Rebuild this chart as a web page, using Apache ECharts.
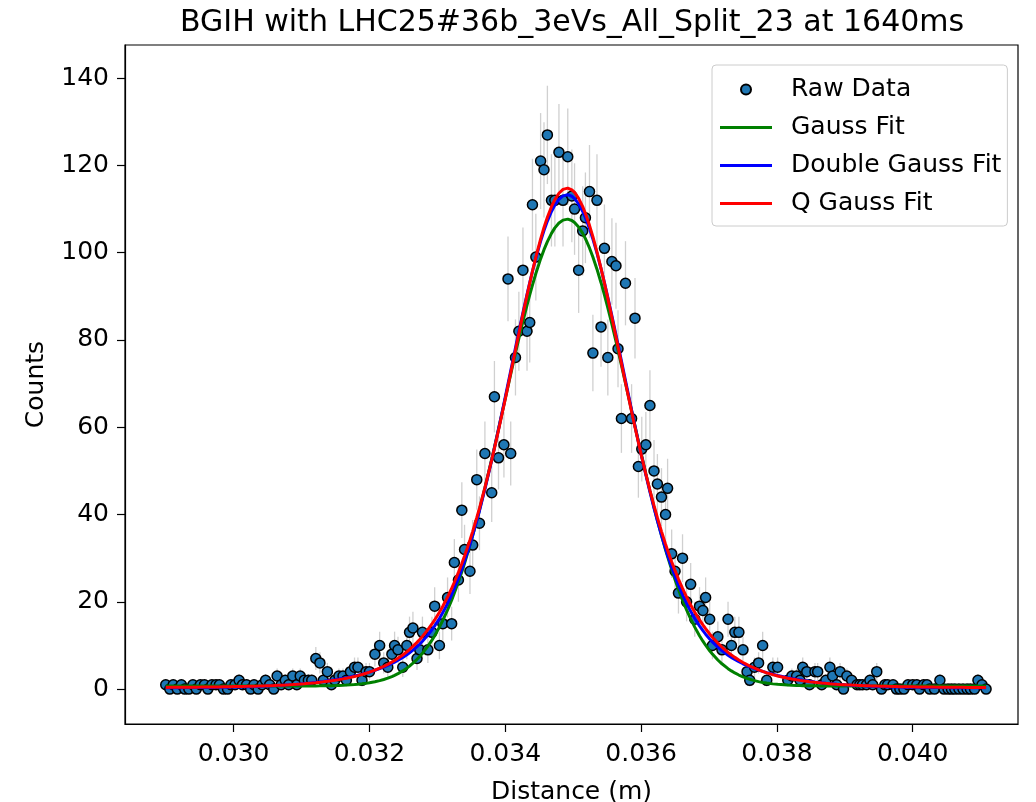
<!DOCTYPE html>
<html><head><meta charset="utf-8">
<script src="https://cdn.jsdelivr.net/npm/echarts@6/dist/echarts.min.js"></script>
<style>html,body{margin:0;padding:0;background:#fff}#c{width:1036px;height:802px}</style>
</head><body><div id="c"></div>
<script>
// Raw data (distance in m, counts)
const distance = [
0.02900,0.02906,0.02911,0.02917,0.02923,0.02928,0.02934,0.02940,0.02945,0.02951,
0.02957,0.02962,0.02968,0.02974,0.02979,0.02985,0.02991,0.02996,0.03002,0.03008,
0.03013,0.03019,0.03025,0.03030,0.03036,0.03042,0.03047,0.03053,0.03059,0.03064,
0.03070,0.03076,0.03081,0.03087,0.03093,0.03098,0.03104,0.03110,0.03115,0.03121,
0.03127,0.03132,0.03138,0.03144,0.03149,0.03155,0.03161,0.03166,0.03172,0.03178,
0.03183,0.03189,0.03195,0.03200,
0.03208,0.03215,0.03221,0.03227,0.03233,0.03237,0.03242,0.03249,0.03255,0.03259,
0.03264,0.03270,0.03274,0.03278,0.03286,0.03292,0.03296,0.03303,0.03308,0.03315,
0.03321,0.03325,0.03331,0.03336,0.03340,0.03348,0.03352,0.03358,0.03362,0.03370,
0.03380,0.03384,0.03390,0.03398,0.03404,0.03408,0.03415,0.03420,0.03426,0.03432,
0.03436,0.03440,0.03445,0.03452,0.03457,0.03462,0.03468,0.03473,0.03479,0.03485,
0.03492,0.03498,0.03502,0.03508,0.03514,0.03518,0.03524,0.03529,0.03535,0.03541,
0.03546,0.03551,0.03557,0.03563,0.03566,0.03571,0.03577,0.03586,0.03591,0.03596,
0.03601,0.03607,0.03613,0.03619,0.03624,0.03630,0.03636,0.03639,0.03645,0.03650,
0.03655,0.03661,0.03667,0.03673,0.03679,0.03686,0.03691,0.03695,0.03701,0.03705,
0.03713,0.03719,0.03728,0.03733,0.03738,0.03744,0.03750,0.03756,0.03760,0.03767,
0.03773,0.03779,0.03785,0.03794,0.03801,
0.03816,0.03822,0.03829,0.03834,0.03838,0.03844,0.03848,0.03856,0.03860,0.03866,
0.03872,0.03878,0.03882,0.03888,0.03893,0.03898,0.03903,0.03910,0.03918,0.03922,
0.03926,0.03932,0.03937,0.03941,0.03947,0.03954,0.03959,0.03963,0.03971,0.03976,
0.03981,0.03987,0.03993,0.04000,0.04006,0.04010,0.04016,0.04021,0.04025,0.04032,
0.04040,0.04046,0.04052,0.04057,0.04062,0.04068,0.04074,0.04080,0.04085,0.04091,
0.04096,0.04102,0.04108
];
const counts = [
1,0,1,0,1,0,0,1,0,1,
1,0,1,1,1,0,0,1,1,2,
1,1,0,1,0,1,2,1,0,3,
1,2,1,3,1,3,2,2,2,7,
6,2,4,1,2,3,3,2,4,5,
5,2,4,4,
8,10,6,5,8,10,9,5,10,13,
14,7,9,13,9,13,19,10,15,21,
15,29,25,41,32,27,33,48,38,54,
45,67,53,56,94,54,76,82,96,82,
84,111,99,121,119,127,112,112,123,112,
122,113,110,96,105,108,114,77,112,83,
101,76,98,97,78,62,93,62,85,51,
55,56,65,50,47,44,40,46,31,27,
22,30,20,24,16,19,18,21,16,10,
12,9,16,10,13,13,9,4,2,5,
6,10,2,5,5,
2,3,3,2,5,4,1,4,4,1,
2,5,3,1,4,0,3,2,1,1,
1,1,2,1,4,0,1,1,1,0,
0,0,1,1,1,0,1,1,0,0,
2,0,0,0,0,0,0,0,0,0,
2,1,0
];
const xTicks = [0.030, 0.032, 0.034, 0.036, 0.038, 0.040];
const yTicks = [0, 20, 40, 60, 80, 100, 120, 140];
// Fit parameters
const gaussParams = [107, 0.03491, 0.000924, 0.7];          // A, mu, sigma, offset
const doubleGaussParams = [95, 0.03491, 0.00082, 18, 0.0016, 0.3]; // A1, mu, s1, A2, s2, offset
const qGaussParams = [114.5, 0.03491, 1.3, 7.19e5, 0.3];     // A, mu, q, beta, offset

function gauss(x){const [A,m,s,c]=gaussParams;return A*Math.exp(-0.5*((x-m)/s)**2)+c;}
function dgauss(x){const [A1,m,s1,A2,s2,c]=doubleGaussParams;return A1*Math.exp(-0.5*((x-m)/s1)**2)+A2*Math.exp(-0.5*((x-m)/s2)**2)+c;}
function qgauss(x){const [A,m,q,b,c]=qGaussParams;return A*Math.pow(1+(q-1)*b*(x-m)**2,-1/(q-1))+c;}

const chart = echarts.init(document.getElementById('c'), null, {renderer:'canvas'});
const FONT = 'DejaVu Sans';
const raw = distance.map((x,i)=>[x,counts[i]]);
const errData = distance.map((x,i)=>[x,counts[i],Math.sqrt(Math.max(counts[i],1))]);
const LINE_ICON = 'path://M0,0L0,0ZM0,3.5L52,3.5L52,6.5L0,6.5ZM52,10L52,10Z';

chart.setOption({
  animation:false,
  backgroundColor:'#fff',
  title:{text:'BGIH with LHC25#36b_3eVs_All_Split_23 at 1640ms', left:180, top:8, padding:0,
    textStyle:{fontFamily:FONT,fontSize:30,fontWeight:'normal',color:'#000'}},
  grid:{left:125, top:45, width:893, height:679, outerBoundsMode:'none', containLabel:false,
    show:true, borderColor:'#000', borderWidth:1.2, backgroundColor:'transparent'},
  legend:{
    left:712, top:65, orient:'vertical',
    data:[{name:'Raw Data',icon:'circle'},{name:'Gauss Fit',icon:LINE_ICON},
          {name:'Double Gauss Fit',icon:LINE_ICON},{name:'Q Gauss Fit',icon:LINE_ICON}],
    itemWidth:52, itemHeight:10, itemGap:13,
    padding:[12,6,10,8],
    borderColor:'#cccccc', borderWidth:1, borderRadius:4, backgroundColor:'rgba(255,255,255,0.8)',
    textStyle:{fontFamily:FONT,fontSize:25,color:'#000',lineHeight:25,padding:[0,0,0,14]}
  },
  xAxis:{type:'value', min:0.0284, max:0.04155,
    name:'Distance (m)', nameLocation:'middle', nameGap:56,
    nameTextStyle:{fontFamily:FONT,fontSize:25,color:'#000'},
    axisLine:{show:true,onZero:false,lineStyle:{color:'#000',width:1.2}},
    axisTick:{show:true,length:8,customValues:xTicks,lineStyle:{color:'#000',width:1.2}},
    axisLabel:{customValues:xTicks,formatter:v=>v.toFixed(3),fontFamily:FONT,fontSize:25,color:'#000',margin:18},
    splitLine:{show:false}},
  yAxis:{type:'value', min:-8, max:147.6,
    name:'Counts', nameLocation:'middle', nameGap:76, nameRotate:90,
    nameTextStyle:{fontFamily:FONT,fontSize:25,color:'#000'},
    axisLine:{show:true,onZero:false,lineStyle:{color:'#000',width:1.2}},
    axisTick:{show:true,length:8,customValues:yTicks,lineStyle:{color:'#000',width:1.2}},
    axisLabel:{customValues:yTicks,formatter:v=>String(v),fontFamily:FONT,fontSize:25,color:'#000',margin:16},
    splitLine:{show:false}},
  series:[
    {type:'custom', name:'Errors', silent:true, z:1, data:errData,
      renderItem:(params,api)=>{
        const x=api.value(0), y=api.value(1), e=api.value(2);
        const p1=api.coord([x,y-e]), p2=api.coord([x,y+e]);
        return {type:'line', shape:{x1:p1[0],y1:p1[1],x2:p2[0],y2:p2[1]}, style:{stroke:'#d0d0d0',lineWidth:1.3}};
      }},
    {type:'scatter', name:'Raw Data', z:2, data:raw, symbol:'circle', symbolSize:10,
      itemStyle:{color:'#1f77b4',borderColor:'#000',borderWidth:1.5,opacity:1}},
    {type:'line', name:'Gauss Fit', z:3, showSymbol:false, symbol:'none',
      data:distance.map(x=>[x,gauss(x)]), lineStyle:{color:'#008000',width:3}, itemStyle:{color:'#008000'}},
    {type:'line', name:'Double Gauss Fit', z:4, showSymbol:false, symbol:'none',
      data:distance.map(x=>[x,dgauss(x)]), lineStyle:{color:'#0000ff',width:3}, itemStyle:{color:'#0000ff'}},
    {type:'line', name:'Q Gauss Fit', z:5, showSymbol:false, symbol:'none',
      data:distance.map(x=>[x,qgauss(x)]), lineStyle:{color:'#ff0000',width:3}, itemStyle:{color:'#ff0000'}}
  ]
});
</script></body></html>
